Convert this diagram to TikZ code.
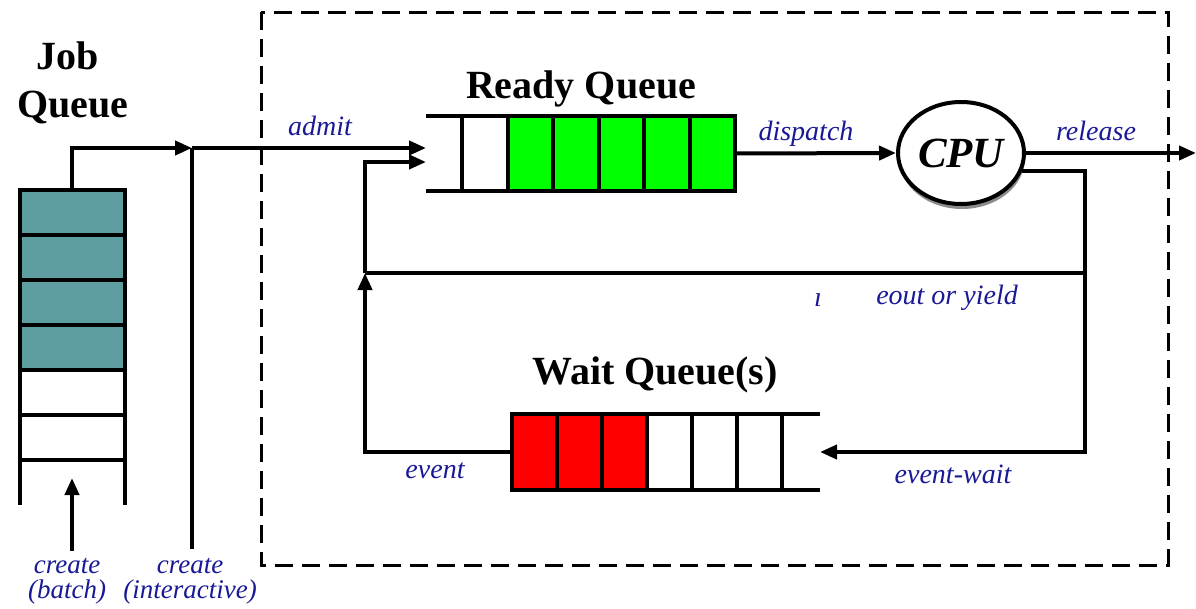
\documentclass[tikz,border=0pt]{standalone}
\usepackage{fontspec}
\setmainfont{Liberation Serif}
\usetikzlibrary{arrows.meta,shapes.geometric,shadows}
\definecolor{lblc}{RGB}{25,25,150}
\definecolor{jteal}{RGB}{95,158,160}
\definecolor{qgreen}{RGB}{0,255,0}
\definecolor{qred}{RGB}{255,0,0}
\begin{document}
\begin{tikzpicture}[x=1pt,y=-1pt,line width=4pt,
  lbl/.style={text=lblc,font=\fontsize{28}{30}\selectfont\itshape,anchor=base,inner sep=0},
  lbltwo/.style={text=lblc,font=\fontsize{27}{25}\selectfont\itshape,align=center,inner sep=0},
  title/.style={font=\fontsize{40}{48}\selectfont\bfseries,anchor=base,inner sep=0},
  arr/.style={-{Triangle[length=17pt,width=14pt]}},
  qarea/.style={inner sep=0,outer sep=0}]
\useasboundingbox (0,0) rectangle (1196,608);

% system boundary
\draw[line width=3pt,dash pattern=on 18pt off 9pt] (261,12) rectangle (1168,565);

% job queue
\foreach \i in {0,...,3} \filldraw[fill=jteal] (20,190+45*\i) rectangle (125,235+45*\i);
\foreach \i in {4,5} \draw (20,190+45*\i) rectangle (125,235+45*\i);
\draw (20,460) -- (20,505);
\draw (125,460) -- (125,505);
\node[qarea,minimum width=105pt,minimum height=315pt] (jq) at (72,347.5) {};
\node[title] (jqt1) at (68,69) {Job};
\node[title] (jqt2) at (73,117) {Queue};

% ready queue
\fill[qgreen] (507.5,116) rectangle (735,191);
\draw (426,116) -- (735,116) -- (735,191) -- (426,191);
\foreach \x in {462,507.5,553,598.5,644,689.5} \draw (\x,116) -- (\x,191);
\node[qarea,minimum width=309pt,minimum height=75pt] (rq) at (580.5,153.5) {};
\node[title] (rqt) at (581,98) {Ready Queue};

% wait queue
\fill[qred] (512,414) rectangle (647,490);
\draw (820,414) -- (512,414) -- (512,490) -- (820,490);
\foreach \x in {557,602,647,692,737,782} \draw (\x,414) -- (\x,490);
\node[qarea,minimum width=308pt,minimum height=76pt] (wq) at (666,452) {};
\node[title] (wqt) at (655,384) {Wait Queue(s)};

% CPU
\node[ellipse,draw,fill=white,minimum width=126pt,minimum height=102pt,inner sep=0,
      drop shadow={shadow xshift=1pt,shadow yshift=-5pt,fill=black!45,opacity=1},
      font=\fontsize{43}{43}\selectfont\bfseries\itshape] (cpu) at (961,153) {CPU};

% junction coordinates
\coordinate (jc) at (192,148);
\coordinate (ci) at (192,549);
\coordinate (cb) at (72,551);
\coordinate (jb) at (72,478);
\coordinate (yj) at (1085,273);
\coordinate (ej) at (365,273);
\coordinate (rel) at (1196,153);

% connectors
\draw[arr] (jq.north) |- (jc);
\draw (jc) -- (ci);
\draw[arr] (cb) -- (jb);
\draw[arr] (jc) -- ([yshift=5.5pt]rq.west);
\draw[arr] (ej) |- ([yshift=-8.5pt]rq.west);
\draw[arr] (rq.east) -- (cpu.west);
\draw[arr] (cpu.east) -- (rel);
\draw (cpu.-16) -| (yj);
\draw[arr] (yj) |- (wq.east);
\draw (yj) -- (ej);
\draw[arr] (wq.west) -| (ej);

% labels
\node[lbl] (ladmit) at (320,135) {admit};
\node[lbl] (ldisp) at (806,140) {dispatch};
\node[lbl] (lrel) at (1096,140) {release};
\node[lbl] (li) at (818,306) {\i};
\node[lbl] (lto) at (947,304) {eout or yield};
\node[lbl] (lev) at (435,478) {event};
\node[lbl] (levw) at (953,483) {event-wait};
\node[lbltwo] (lcb) at (67,581) {create\\(batch)};
\node[lbltwo] (lci) at (190,581) {create\\(interactive)};
\end{tikzpicture}
\end{document}
